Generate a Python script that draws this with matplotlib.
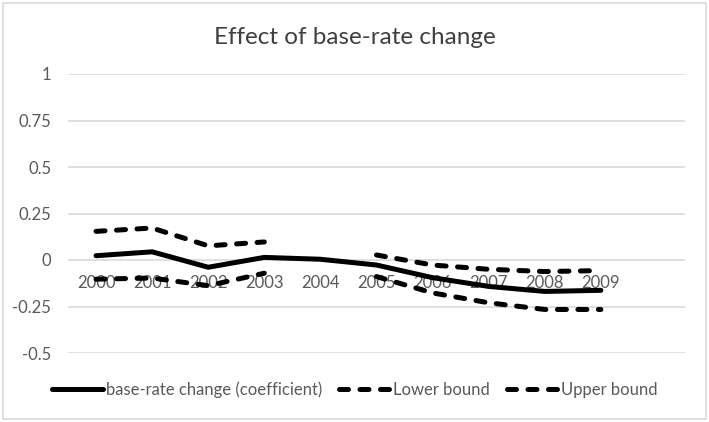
import numpy as np
import matplotlib
matplotlib.use("Agg")
import matplotlib.pyplot as plt
from matplotlib.patches import Rectangle

years = ["2000", "2001", "2002", "2003", "2004", "2005", "2006", "2007", "2008", "2009"]
coef = [0.023, 0.044, -0.039, 0.014, 0.004, -0.027, -0.095, -0.142, -0.169, -0.163]
lower = [-0.103, -0.097, -0.138, -0.071, np.nan, -0.089, -0.177, -0.230, -0.266, -0.266]
upper = [0.154, 0.172, 0.076, 0.097, np.nan, 0.027, -0.027, -0.050, -0.062, -0.057]
yticks = [1, 0.75, 0.5, 0.25, 0, -0.25, -0.5]
ytick_labels = ["1", "0.75", "0.5", "0.25", "0", "-0.25", "-0.5"]

plt.rcParams['font.family'] = ['Lato', 'DejaVu Sans']

fig = plt.figure(figsize=(7.09, 4.22), dpi=100)
fig.patches.append(Rectangle((0.004, 0.006), 0.992, 0.988, transform=fig.transFigure,
                             fill=False, edgecolor='#d9d9d9', linewidth=1.2))
ax = fig.add_axes([68/709, 1-353/422, 617/709, 279/422])

x = np.arange(len(years))
lw = 3.6
dash = (1.8, 2.3)
ax.plot(x, coef, color='black', lw=lw, solid_capstyle='round', solid_joinstyle='round',
        label='base-rate change (coefficient)', zorder=3)
ax.plot(x, lower, color='black', lw=lw, dashes=dash, dash_capstyle='round',
        label='Lower bound', zorder=3)
ax.plot(x, upper, color='black', lw=lw, dashes=dash, dash_capstyle='round',
        label='Upper bound', zorder=3)

ax.set_xlim(-0.5, 10.5)
ax.set_ylim(-0.5, 1)
ax.set_yticks(yticks)
ax.set_yticklabels(ytick_labels)
ax.set_xticks(x)
ax.set_xticklabels(years)
ax.grid(axis='y', color='#d9d9d9', linewidth=1.2)
ax.set_axisbelow(True)
for s in ['top', 'right', 'left']:
    ax.spines[s].set_visible(False)
ax.spines['bottom'].set_position(('data', 0))
ax.spines['bottom'].set_visible(False)
ax.tick_params(axis='both', length=0, labelsize=12, labelcolor='#595959')
ax.tick_params(axis='y', pad=12)
ax.tick_params(axis='x', pad=11)

fig.text(0.5, 1-38/422, "Effect of base-rate change", ha='center', va='center',
         fontsize=17.5, color='#404040')

leg = fig.legend(loc='center', bbox_to_anchor=(0.5, 1-390/422), ncol=3, frameon=False,
                 fontsize=12, handlelength=3.1, columnspacing=1.0, handletextpad=0.15)
for t in leg.get_texts():
    t.set_color('#595959')

fig.savefig("out.png", dpi=100)
